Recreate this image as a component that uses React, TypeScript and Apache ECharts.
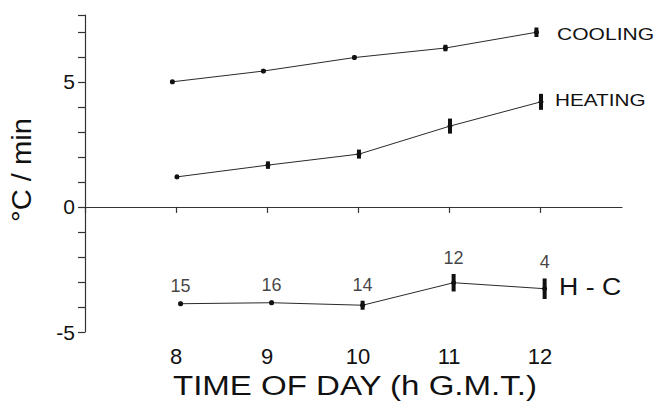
import React, { useEffect, useRef } from "react";
import * as echarts from "echarts";

// ---- data ----
const hourTicks = [7, 8, 9, 10, 11, 12];
const hourLabels = [8, 9, 10, 11, 12];
const yTicks = [-5, -4, -3, -2, -1, 0, 1, 2, 3, 4, 5, 6, 7, 7.67];
const yLabels = [-5, 0, 5];

const coolingX = [7.96, 8.96, 9.96, 10.96, 11.96];
const coolingMean = [5.0, 5.43, 5.97, 6.35, 6.98];
const coolingErr = [0.08, 0.08, 0.08, 0.13, 0.19];

const heatingX = [8.01, 9.01, 10.01, 11.01, 12.01];
const heatingMean = [1.2, 1.67, 2.11, 3.23, 4.2];
const heatingErr = [0.08, 0.15, 0.18, 0.3, 0.32];

const hcX = [8.05, 9.05, 10.05, 11.05, 12.05];
const hcMean = [-3.87, -3.83, -3.93, -3.03, -3.27];
const hcErr = [0.08, 0.08, 0.18, 0.35, 0.41];
const hcCounts = [15, 16, 14, 12, 4];

const INK = "#111111";
const FONT = "Liberation Sans, Arial, sans-serif";

function pts(xs: number[], ys: number[]) {
  return xs.map((x, i) => [x, ys[i]]);
}
function bars(xs: number[], m: number[], e: number[]) {
  return xs.map((x, i) => [x, m[i] - e[i], m[i] + e[i]]);
}

const errRender = (params: any, api: any) => {
  const x = api.value(0);
  const lo = api.value(1);
  const hi = api.value(2);
  const p1 = api.coord([x, hi]);
  const p2 = api.coord([x, lo]);
  return {
    type: "rect",
    shape: { x: p1[0] - 2, y: p1[1], width: 4, height: Math.max(3, p2[1] - p1[1]) },
    style: { fill: "#111" },
  };
};

function lineSeries(name: string, xs: number[], ys: number[], extra: any = {}) {
  return {
    name,
    type: "line",
    data: pts(xs, ys),
    symbol: "circle",
    symbolSize: 5,
    itemStyle: { color: "#111" },
    lineStyle: { color: "#2a2a2a", width: 1 },
    z: 3,
    ...extra,
  };
}

function errSeries(name: string, xs: number[], m: number[], e: number[]) {
  return {
    name: name + " err",
    type: "custom",
    renderItem: errRender,
    data: bars(xs, m, e),
    encode: { x: 0, y: [1, 2] },
    z: 4,
  };
}

export default function App() {
  const ref = useRef<HTMLDivElement>(null);
  useEffect(() => {
    if (!ref.current) return;
    const chart = echarts.init(ref.current, undefined, { renderer: "svg" });
    chart.setOption({
      animation: false,
      backgroundColor: "#ffffff",
      grid: { left: 85, right: 35, top: 15, bottom: 71 },
      xAxis: {
        type: "value",
        min: 7,
        max: 12.9,
        interval: 1,
        axisLine: { lineStyle: { color: "#333", width: 1.2 } },
        axisTick: { length: 6, customValues: hourTicks, lineStyle: { color: "#333", width: 1.2 } },
        axisLabel: {
          customValues: hourLabels,
          fontSize: 22,
          fontFamily: FONT,
          color: INK,
          margin: 13,
        },
        splitLine: { show: false },
      },
      yAxis: {
        type: "value",
        min: -5,
        max: 7.67,
        interval: 1,
        axisLine: { show: true, lineStyle: { color: "#333", width: 1.2 } },
        axisTick: { show: true, length: 7, customValues: yTicks, lineStyle: { color: "#333", width: 1.2 } },
        axisLabel: {
          customValues: yLabels,
          fontSize: 21,
          fontFamily: FONT,
          color: INK,
          margin: 10,
        },
        splitLine: { show: false },
      },
      series: [
        lineSeries("COOLING", coolingX, coolingMean, {
          markLine: {
            silent: true,
            symbol: "none",
            label: { show: false },
            lineStyle: { color: "#333", width: 1.2, type: "solid" },
            data: [{ yAxis: 0 }],
          },
        }),
        errSeries("COOLING", coolingX, coolingMean, coolingErr),
        lineSeries("HEATING", heatingX, heatingMean),
        errSeries("HEATING", heatingX, heatingMean, heatingErr),
        lineSeries("H - C", hcX, hcMean),
        errSeries("H - C", hcX, hcMean, hcErr),
        {
          name: "n",
          type: "scatter",
          symbolSize: 0,
          data: hcX.map((x, i) => ({
            value: [x, hcMean[i] + hcErr[i]],
            label: { formatter: String(hcCounts[i]) },
          })),
          label: {
            show: true,
            position: "top",
            distance: 7,
            fontSize: 18,
            fontFamily: FONT,
            color: INK,
          },
          z: 5,
        },
      ],
      graphic: [
        {
          type: "text",
          x: 173,
          y: 385,
          scaleX: 1.18,
          style: {
            text: "TIME OF DAY (h G.M.T.)",
            fontSize: 28,
            fontFamily: FONT,
            fill: INK,
            align: "left",
            verticalAlign: "middle",
          },
        },
        {
          type: "text",
          x: 22,
          y: 170,
          rotation: Math.PI / 2,
          scaleX: 1.08,
          style: {
            text: "°C / min",
            fontSize: 27,
            fontFamily: FONT,
            fill: INK,
            align: "center",
            verticalAlign: "middle",
          },
        },
        {
          type: "text",
          x: 557,
          y: 34,
          scaleX: 1.24,
          style: { text: "COOLING", fontSize: 17, fontFamily: FONT, fill: INK, align: "left", verticalAlign: "middle" },
        },
        {
          type: "text",
          x: 555,
          y: 100,
          scaleX: 1.22,
          style: { text: "HEATING", fontSize: 17, fontFamily: FONT, fill: INK, align: "left", verticalAlign: "middle" },
        },
        {
          type: "text",
          x: 559,
          y: 286.5,
          scaleX: 1.16,
          style: { text: "H - C", fontSize: 23, fontFamily: FONT, fill: INK, align: "left", verticalAlign: "middle" },
        },
      ],
    });
    return () => chart.dispose();
  }, []);
  return (
    <div
      ref={ref}
      style={{ position: "fixed", left: 0, top: 0, width: 657, height: 403, background: "#fff" }}
    />
  );
}
